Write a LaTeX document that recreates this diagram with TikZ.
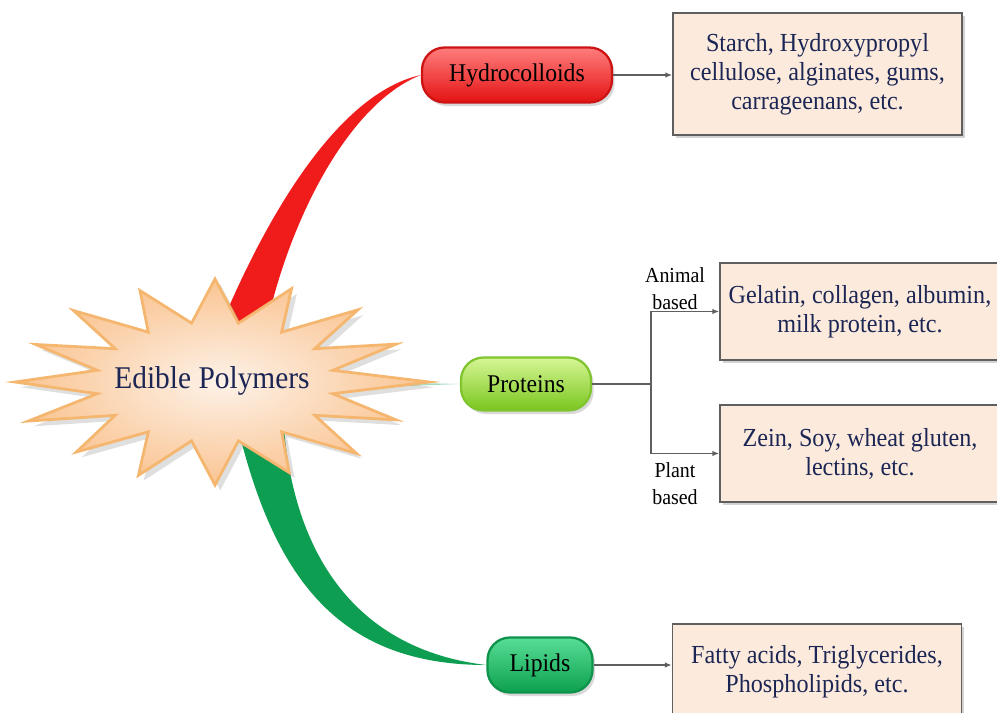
\documentclass[tikz,border=0pt]{standalone}
\usepackage{fontspec}
\setmainfont{Liberation Serif}[FakeStretch=0.93]
\usetikzlibrary{arrows.meta,positioning,calc,shadows}
\definecolor{boxfill}{RGB}{252,235,221}
\definecolor{boxline}{RGB}{95,95,95}
\definecolor{navy}{RGB}{28,38,84}
\definecolor{ribred}{RGB}{240,28,28}
\definecolor{ribgreen}{RGB}{14,158,82}
\definecolor{burstline}{RGB}{245,183,112}
\tikzset{
  pill/.style={draw,rounded corners=0.45cm,minimum height=1.1cm,inner sep=4pt,
               font=\fontsize{14.5}{16}\selectfont,line width=1.3pt,
               drop shadow={shadow xshift=1.5pt,shadow yshift=-2pt,opacity=0.3}},
  redpill/.style={pill,top color={rgb,255:red,255;green,125;blue,125},
                  bottom color={rgb,255:red,228;green,18;blue,18},draw={rgb,255:red,205;green,20;blue,20}},
  limepill/.style={pill,top color={rgb,255:red,214;green,246;blue,150},
                   bottom color={rgb,255:red,122;green,198;blue,30},draw={rgb,255:red,128;green,196;blue,48}},
  tealpill/.style={pill,top color={rgb,255:red,88;green,222;blue,150},
                   bottom color={rgb,255:red,12;green,160;blue,78},draw={rgb,255:red,14;green,146;blue,76}},
  info/.style={draw=boxline,fill=boxfill,align=center,text=navy,line width=0.8pt,
               font=\fontsize{14.8}{16.5}\selectfont,minimum width=5.78cm,
               drop shadow={shadow xshift=1.5pt,shadow yshift=-1.5pt,opacity=0.35}},
  lnk/.style={draw=boxline,line width=0.8pt,-{Latex[length=1.4mm,width=1.1mm]}},
  tag/.style={font=\fontsize{12.2}{15.4}\selectfont,align=center,inner sep=1pt},
  burst/.style={draw=burstline,line width=1.6pt,
                inner color={rgb,255:red,253;green,242;blue,232},
                outer color={rgb,255:red,250;green,196;blue,146},
                drop shadow={shadow xshift=3pt,shadow yshift=-3pt,opacity=0.25}}
}

\begin{document}
\begin{tikzpicture}[x=0.02cm,y=-0.02cm]
  \useasboundingbox (0,0) rectangle (997,713);
  \clip (0,0) rectangle (997,713);

  % category pills and boxes
  \node[redpill,minimum width=3.8cm] (hydro) at (517,75) {Hydrocolloids};
  \node[limepill,minimum width=2.6cm,minimum height=1.06cm] (prot) at (526,384) {Proteins};
  \node[tealpill,minimum width=2.1cm] (lipid) at (540,665) {Lipids};

  \node[info,minimum height=2.44cm] (hbox) at (817.5,74)
    {Starch, Hydroxypropyl\\cellulose, alginates, gums,\\carrageenans, etc.};
  \node[info,minimum width=5.6cm,minimum height=1.94cm] (gbox) at (860,311.5)
    {Gelatin, collagen, albumin,\\milk protein, etc.};
  \node[info,minimum width=5.6cm,minimum height=1.94cm] (zbox) at (860,453.5)
    {Zein, Soy, wheat gluten,\\lectins, etc.};
  \node[info,minimum height=1.9cm] (lbox) at (817,671.5)
    {Fatty acids, Triglycerides,\\Phospholipids, etc.};

  % ribbons behind the burst
  \fill[ribred] (215,340) .. controls (255,240) and (330,95) .. (hydro.west)
    .. controls (345,105) and (285,230) .. (264,338) -- cycle;
  \fill[ribgreen] (238,428) .. controls (275,580) and (340,665) .. (lipid.west)
    .. controls (360,650) and (295,560) .. (284,428) -- cycle;
  \fill[ribgreen!60,opacity=0.6] (330,381) -- (prot.west) -- (330,389) -- cycle;

  % the burst
  \begin{scope}[shift={(215,382)}]
    \path[burst] (180:200 and 101)
      \foreach \a/\f in {202.5/0.97,225/1.0,247.5/0.98,270/1.02,292.5/1.0,315/1.01,
                         337.5/0.98,360/1.07,382.5/0.98,405/1.0,427.5/0.97,
                         450/1.02,472.5/1.0,495/0.98,517.5/1.01}
        { -- ({\a-11.25}:120 and 60) -- ({\a}:{200*\f} and {101*\f}) }
      -- (168.75:120 and 60) -- cycle;
  \end{scope}
  \node[font=\fontsize{18}{20}\selectfont,text=navy] (edible) at (212,381) {Edible Polymers};

  % connectors
  \coordinate (split) at (651,384);
  \draw[lnk] (hydro.east) -- (hydro.east -| hbox.west);
  \draw[draw=boxline,line width=0.8pt] (prot.east) -- (split);
  \draw[lnk] (split) |- (gbox.west);
  \draw[lnk] (split) |- (zbox.west);
  \draw[lnk] (lipid.east) -- (lipid.east -| lbox.west);

  \node[tag] (animal) at (675,288.5) {Animal\\based};
  \node[tag] (plant) at (675,483.5) {Plant\\based};
\end{tikzpicture}
\end{document}
